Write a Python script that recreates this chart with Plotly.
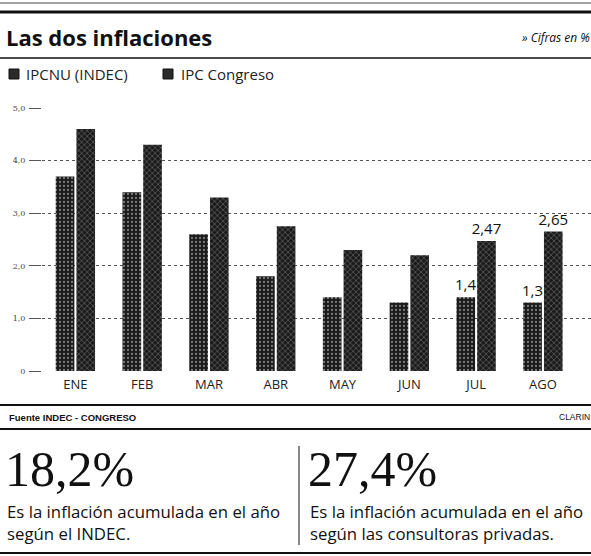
import plotly.graph_objects as go

months = ["ENE", "FEB", "MAR", "ABR", "MAY", "JUN", "JUL", "AGO"]
indec = [3.7, 3.4, 2.6, 1.8, 1.4, 1.3, 1.4, 1.3]
congreso = [4.6, 4.3, 3.3, 2.75, 2.3, 2.2, 2.47, 2.65]
indec_labels = ["", "", "", "", "", "", "1,4", "1,3"]
congreso_labels = ["", "", "", "", "", "", "2,47", "2,65"]
series_names = ["IPCNU (INDEC)", "IPC Congreso"]
y_ticks = [0, 1, 2, 3, 4, 5]
y_tick_text = ["0", "1,0", "2,0", "3,0", "4,0", "5,0"]

W, H = 591, 556
ML, MR, MT, MB = 42, 0, 108, 185

fig = go.Figure()
fig.add_trace(go.Bar(
    x=months, y=indec, name=series_names[0], showlegend=False,
    marker=dict(color="#1a1a1a", line=dict(width=0),
                pattern=dict(shape=".", fgcolor="#d8d8d8", bgcolor="#1a1a1a", size=4, solidity=0.25)),
    text=indec_labels, textposition="outside", cliponaxis=False, constraintext="none",
    textfont=dict(family="Open Sans", size=15, color="#111"),
))
fig.add_trace(go.Bar(
    x=months, y=congreso, name=series_names[1], showlegend=False,
    marker=dict(color="#1a1a1a", line=dict(width=0),
                pattern=dict(shape="x", fgcolor="#d8d8d8", bgcolor="#1a1a1a", size=4, solidity=0.25)),
    text=congreso_labels, textposition="outside", cliponaxis=False, constraintext="none",
    textfont=dict(family="Open Sans", size=15, color="#111"),
))

PW = W - ML - MR
PH = H - MT - MB

def fx(x):
    return (x - ML) / PW

def fy(y):
    return (H - MB - y) / PH

shapes = []
def hline(y, x0, x1, w, color="#111"):
    shapes.append(dict(type="line", xref="paper", yref="paper",
                       x0=fx(x0), x1=fx(x1), y0=fy(y), y1=fy(y),
                       line=dict(color=color, width=w)))

def vline(x, y0, y1, w, color="#111"):
    shapes.append(dict(type="line", xref="paper", yref="paper",
                       x0=fx(x), x1=fx(x), y0=fy(y0), y1=fy(y1),
                       line=dict(color=color, width=w)))

def box(x0, y0, x1, y1):
    shapes.append(dict(type="rect", xref="paper", yref="paper",
                       x0=fx(x0), x1=fx(x1), y0=fy(y0), y1=fy(y1),
                       fillcolor="#2a2a2a", line=dict(color="#111", width=1)))

hline(3, 0, 591, 1, "#444")
hline(12, 0, 591, 3)
hline(58, 0, 591, 1.5)
hline(405, 0, 591, 2)
hline(429, 0, 591, 2)
hline(553, 0, 591, 2)
vline(299, 446, 545, 1)

ann = []
def text(x, y, s, size, family="Open Sans", color="#111", xanchor="left", yanchor="middle"):
    ann.append(dict(xref="paper", yref="paper", x=fx(x), y=fy(y),
                    text=s, showarrow=False, xanchor=xanchor, yanchor=yanchor,
                    borderpad=0, font=dict(family=family, size=size, color=color)))

# legend (manual)
box(9, 69, 19, 79)
text(25, 74, series_names[0], 15, color="#222")
box(163, 69, 173, 79)
text(180, 74, series_names[1], 15, color="#222")

text(5, 37, "<b>Las dos inflaciones</b>", 22)
text(591, 38, "<i>» Cifras en %</i>", 12, xanchor="right")
text(8, 417, "<b>Fuente INDEC - CONGRESO</b>", 9.5, family="Liberation Sans Narrow, Liberation Sans")
text(591, 417, "CLARIN", 8.5, family="Liberation Sans", xanchor="right")
text(4, 469, "18,2%", 50, family="Liberation Serif", color="#111")
text(307, 469, "27,4%", 50, family="Liberation Serif", color="#111")
text(6, 511, "Es la inflación acumulada en el año", 16.8)
text(6, 533, "según el INDEC.", 16.8)
text(309, 511, "Es la inflación acumulada en el año", 16.8)
text(309, 533, "según las consultoras privadas.", 16.8)

fig.update_layout(
    width=W, height=H,
    margin=dict(l=ML, r=MR, t=MT, b=MB),
    paper_bgcolor="white", plot_bgcolor="white",
    barmode="group", bargap=0.38, bargroupgap=0.1,
    showlegend=False,
    font=dict(family="Open Sans", color="#222"),
    shapes=shapes, annotations=ann,
    xaxis=dict(range=[-0.5, 7.72], showgrid=False, zeroline=False, showline=False,
               ticks="", tickfont=dict(family="Open Sans", size=13, color="#222"),
               ticklabelstandoff=4),
    yaxis=dict(range=[0, 5], tickvals=y_ticks, ticktext=y_tick_text,
               showgrid=True, gridcolor="#555", griddash="dot", gridwidth=1,
               zeroline=False, showline=False, ticks="outside", ticklen=12,
               tickcolor="#555", tickfont=dict(family="DejaVu Serif", size=8, color="#444"),
               ticklabelstandoff=2),
)

fig.write_html("out.html", config={"displayModeBar": False},
               post_script="document.body.style.margin='0px';document.body.style.overflow='hidden';")
